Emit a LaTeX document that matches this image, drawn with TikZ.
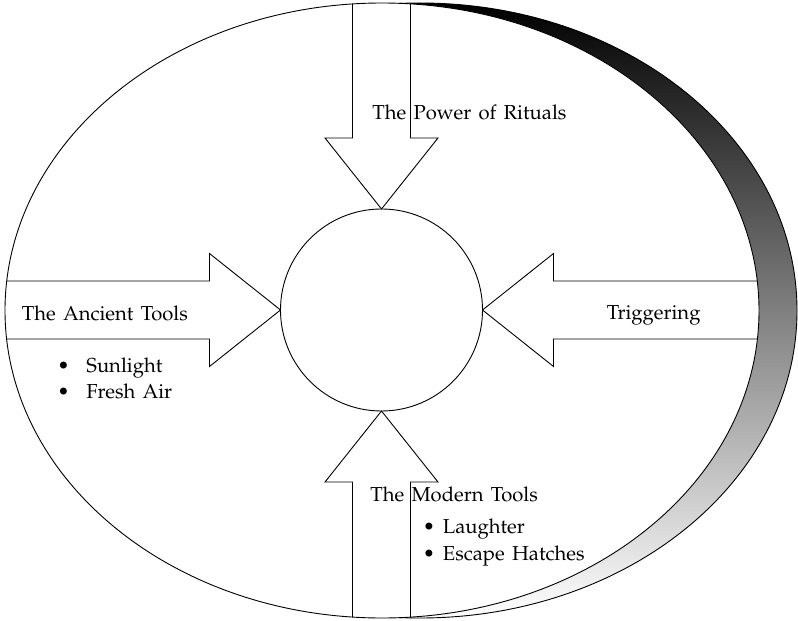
\documentclass[tikz,border=0pt]{standalone}
\usepackage[T1]{fontenc}
\usepackage{mathpazo}
\newcommand\widespaces{\spaceskip=0.36em plus 0.1em\relax}
\begin{document}
\begin{tikzpicture}[x=1bp,y=-1bp,line width=0.9bp,
  lbl/.style={inner sep=0pt,anchor=base west,font=\fontsize{20.3}{24}\selectfont,execute at begin node=\widespaces},
  arrowbox/.style={draw=black,fill=white,line join=miter},
  outerellipse/.style={x radius=377,y radius=307.5},
  shadowband/.style={draw=black,top color=black,middle color=black!55,bottom color=white}]
\useasboundingbox (0,0) rectangle (798,621);
% shadow crescent
\path[shadowband] (420,310.5) ellipse [outerellipse];
% main ellipse
\path[fill=white] (382,310.5) ellipse [outerellipse];
% hub circle
\node[draw,circle,minimum size=202bp,inner sep=0pt,fill=white] (hub) at (381.5,310) {};
% block arrows, clipped to the ellipse
\begin{scope}
\clip (382,310.5) ellipse [outerellipse];
\foreach \a in {0,90,180,270}
  \draw[arrowbox,shift={(hub.center)},rotate=\a]
    (-101,0) -- (-172,-56.5) -- (-172,-29) -- (-460,-29) -- (-460,29) -- (-172,29) -- (-172,56.5) -- cycle;
\end{scope}
\draw (382,310.5) ellipse [outerellipse];
% labels
\node[lbl] (rituals) at (372,119.5) {The Power of Rituals};
\node[lbl] (ancient) at (21.5,320) {The Ancient Tools};
\node[lbl] (sun) at (57,372) {\makebox[29bp][l]{\textbullet}Sunlight};
\node[lbl] (air) at (57,398.5) {\makebox[29bp][l]{\textbullet}Fresh Air};
\node[lbl] (trig) at (606.5,319) {Triggering};
\node[lbl] (modern) at (370,501.5) {The Modern Tools};
\node[lbl] (laugh) at (422.5,533) {\makebox[20bp][l]{\textbullet}Laughter};
\node[lbl] (hatch) at (422.5,560) {\makebox[20bp][l]{\textbullet}Escape Hatches};
\end{tikzpicture}
\end{document}
